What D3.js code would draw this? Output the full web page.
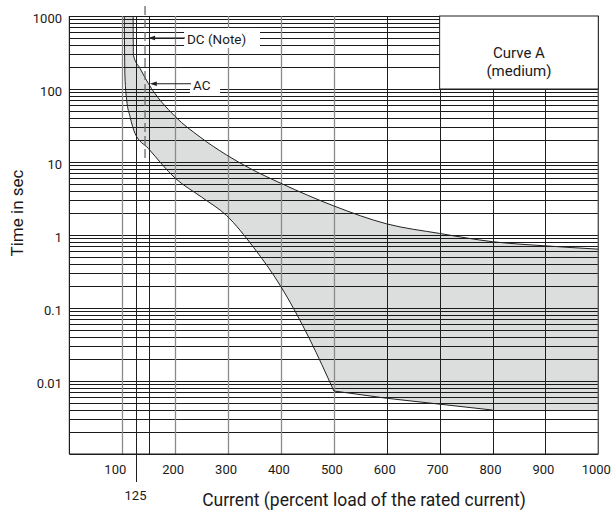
<!DOCTYPE html>
<html>
<head>
<meta charset="utf-8">
<script src="https://cdn.jsdelivr.net/npm/d3@7"></script>
<style>
  html, body { margin: 0; padding: 0; background: #fff; }
  svg { display: block; }
  text { font-family: Roboto, "Liberation Sans", sans-serif; fill: #1a1a1a; }
</style>
</head>
<body>
<svg id="chart" width="613" height="519"></svg>
<script>
// ---------- data ----------
const xTickValues = [100, 200, 300, 400, 500, 600, 700, 800, 900, 1000];
const xTickLabels = ["100", "200", "300", "400", "500", "600", "700", "800", "900", "1000"];
const extraXTick = 125;
const yTickValues = [0.01, 0.1, 1, 10, 100, 1000];
const yTickLabels = ["0.01", "0.1", "1", "10", "100", "1000"];
const verticalGrid = [100, 125, 150, 200, 300, 400, 500, 600, 700, 800, 900];
const grayVerticals = [100, 200, 300, 400, 500];
const dcCurrent = 143;            // DC (Note) dashed line
const dcTopTime = 1000, dcBottomTime = 10;

// upper (AC) boundary of the band: current %, time s
const upperCurrent = [120.5, 121, 133.5, 149, 200, 247, 297, 341, 400, 500, 600, 700, 800, 900, 1000];
const upperTime    = [1000, 290, 192, 120, 42, 22, 12.5, 8.2, 5.1, 2.5, 1.42, 1.05, 0.81, 0.71, 0.64];
// lower boundary: smooth part then straight tail
const lowerCurrentA = [103.8, 105, 108.3, 114.6, 124, 149, 200, 250, 297, 348, 400, 455, 500];
const lowerTimeA    = [1000, 150, 71, 42, 24.7, 15.4, 6.0, 3.3, 1.85, 0.68, 0.196, 0.0365, 0.0073];
const lowerCurrentB = [500, 600, 800];
const lowerTimeB    = [0.0073, 0.0058, 0.004];
const bandEndCurrent = 1000, bandEndTime = 0.004;

const legendLines = ["Curve A", "(medium)"];
const legendFrom = {current: 700, time: 1000};
const legendTo = {current: 1000, time: 100};

// ---------- scales ----------
const svg = d3.select("#chart");
const x = d3.scaleLinear().domain([0, 1000]).range([69.4, 598.3]);
const y = d3.scaleLog().domain([0.001, 1000]).range([454, 16]);

const pts = (xs, ys) => xs.map((v, i) => [x(v), y(ys[i])]);
const mono = d3.line().curve(d3.curveMonotoneX);
const lin = d3.line();

const upperPts = pts(upperCurrent, upperTime);
const lowerA = pts(lowerCurrentA, lowerTimeA);
const lowerB = pts(lowerCurrentB, lowerTimeB);

// ---------- band fill ----------
const fillPath = mono(upperPts)
  + "L" + x(bandEndCurrent) + "," + y(bandEndTime)
  + lin(lowerB.slice().reverse()).replace(/^M/, "L")
  + mono(lowerA.slice().reverse()).replace(/^M/, "L")
  + "Z";
svg.append("path").attr("d", fillPath).attr("fill", "#dcdddd").attr("stroke", "none");

// ---------- grid ----------
const gridG = svg.append("g");
const hVals = [];
for (let e = -3; e < 3; e++) {
  for (let k = 1; k <= 9; k++) hVals.push(k * Math.pow(10, e));
}
hVals.push(1000);
gridG.selectAll("line.h").data(hVals).join("line")
  .attr("x1", x(0)).attr("x2", x(1000))
  .attr("y1", d => Math.round(y(d)) + 0.5).attr("y2", d => Math.round(y(d)) + 0.5)
  .attr("stroke", "#1a1a1a").attr("stroke-width", 1);

gridG.selectAll("line.v").data(verticalGrid).join("line")
  .attr("x1", d => Math.round(x(d)) + 0.5).attr("x2", d => Math.round(x(d)) + 0.5)
  .attr("y1", y(1000)).attr("y2", y(0.001))
  .attr("stroke", d => grayVerticals.includes(d) ? "#8a8a8a" : "#1e1e1e")
  .attr("stroke-width", d => grayVerticals.includes(d) ? 1.3 : 1);

// 125 tick extends below the axis
svg.append("line")
  .attr("x1", Math.round(x(extraXTick)) + 0.5).attr("x2", Math.round(x(extraXTick)) + 0.5)
  .attr("y1", y(0.001)).attr("y2", y(0.001) + 28)
  .attr("stroke", "#1e1e1e").attr("stroke-width", 1);

// frame
svg.append("line").attr("x1", x(0)).attr("x2", x(0)).attr("y1", y(1000)).attr("y2", y(0.001))
  .attr("stroke", "#1e1e1e").attr("stroke-width", 1.2);
svg.append("line").attr("x1", x(1000)).attr("x2", x(1000)).attr("y1", y(1000)).attr("y2", y(0.001))
  .attr("stroke", "#555").attr("stroke-width", 1.4);
svg.append("line").attr("x1", x(0)).attr("x2", x(1000)).attr("y1", y(0.001)).attr("y2", y(0.001))
  .attr("stroke", "#1e1e1e").attr("stroke-width", 1.2);

// ---------- curves ----------
svg.append("path").attr("d", mono(upperPts)).attr("fill", "none").attr("stroke", "#222").attr("stroke-width", 1);
svg.append("path").attr("d", mono(lowerA)).attr("fill", "none").attr("stroke", "#222").attr("stroke-width", 1);
svg.append("path").attr("d", lin(lowerB)).attr("fill", "none").attr("stroke", "#222").attr("stroke-width", 1);

// DC dashed line
svg.append("line")
  .attr("x1", x(dcCurrent)).attr("x2", x(dcCurrent))
  .attr("y1", y(dcTopTime) - 10).attr("y2", y(dcBottomTime))
  .attr("stroke", "#6a6a6a").attr("stroke-width", 1.3).attr("stroke-dasharray", "9,4");

// ---------- legend box ----------
const lx0 = x(legendFrom.current), lx1 = x(legendTo.current);
const ly0 = y(legendFrom.time), ly1 = y(legendTo.time);
svg.append("rect").attr("x", lx0).attr("y", ly0).attr("width", lx1 - lx0).attr("height", ly1 - ly0)
  .attr("fill", "#fff").attr("stroke", "#1e1e1e").attr("stroke-width", 1);
svg.append("g").selectAll("text").data(legendLines).join("text")
  .attr("x", (lx0 + lx1) / 2).attr("y", (d, i) => ly0 + 37 + i * 17.5)
  .attr("text-anchor", "middle").attr("dominant-baseline", "central")
  .attr("font-size", 15).text(d => d);

// ---------- annotations ----------
function arrowLabel(label, tipX, tipY, textX, boxW) {
  const g = svg.append("g");
  g.append("rect").attr("x", textX - 3).attr("y", tipY - 10).attr("width", boxW).attr("height", 20).attr("fill", "#fff");
  g.append("line").attr("x1", textX - 2).attr("x2", tipX + 5).attr("y1", tipY).attr("y2", tipY)
    .attr("stroke", "#1e1e1e").attr("stroke-width", 1);
  g.append("path").attr("d", `M${tipX},${tipY}L${tipX + 7},${tipY - 2.2}L${tipX + 7},${tipY + 2.2}Z`).attr("fill", "#1e1e1e");
  g.append("text").attr("x", textX).attr("y", tipY + 1).attr("dominant-baseline", "central")
    .attr("font-size", 13.5).text(label);
}
arrowLabel("DC (Note)", x(dcCurrent) + 3, y(500), 187, 76);
arrowLabel("AC", x(152), y(118), 193, 30);

// ---------- axis labels ----------
svg.append("g").selectAll("text").data(yTickValues).join("text")
  .attr("x", 62).attr("y", d => y(d) + 2)
  .attr("text-anchor", "end").attr("dominant-baseline", "central")
  .attr("font-size", 13).text((d, i) => yTickLabels[i]);

svg.append("g").selectAll("text").data(xTickValues).join("text")
  .attr("x", d => x(d) - (d === 100 ? 7 : 2)).attr("y", 469)
  .attr("text-anchor", "middle").attr("dominant-baseline", "central")
  .attr("font-size", 13).text((d, i) => xTickLabels[i]);

svg.append("text").attr("x", x(extraXTick)).attr("y", 495)
  .attr("text-anchor", "middle").attr("dominant-baseline", "central")
  .attr("font-size", 13).text(String(extraXTick));

svg.append("text").attr("transform", "translate(17,213) rotate(-90)")
  .attr("text-anchor", "middle").attr("dominant-baseline", "central")
  .attr("font-size", 17).text("Time in sec");

svg.append("text").attr("x", 364).attr("y", 500)
  .attr("text-anchor", "middle").attr("dominant-baseline", "central")
  .attr("font-size", 17.5).text("Current (percent load of the rated current)");
</script>
</body>
</html>
